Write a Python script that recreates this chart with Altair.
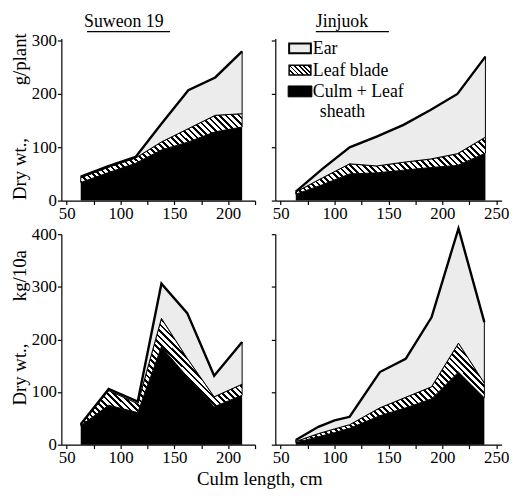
import math
import altair as alt
import pandas as pd

FONT = "Liberation Serif"

# ---- data ----------------------------------------------------------------
# Suweon 19, Dry wt. g/plant
s_top_cm = [63, 88, 114, 138, 163, 188, 213]
s_top_culm = [34, 52, 70, 95, 110, 129, 138]
s_top_leaf = [9, 10, 10, 15, 25, 31, 25]
s_top_ear = [2, 2, 2, 34, 72, 71, 117]

# Suweon 19, Dry wt. kg/10a
s_bot_cm = [63, 89, 116, 138, 162, 187, 213]
s_bot_culm = [36, 75, 61, 186, 129, 72, 94]
s_bot_leaf = [2, 28, 17, 54, 35, 19, 21]
s_bot_ear = [1, 3, 4, 66, 86, 40, 80]

# Jinjuok, Dry wt. g/plant
j_top_cm = [64, 89, 114, 139, 164, 189, 214, 240]
j_top_culm = [12, 30, 50, 52, 57, 62, 66, 89]
j_top_leaf = [4, 13, 19, 13, 15, 16, 22, 30]
j_top_ear = [1, 17, 31, 55, 70, 92, 112, 151]

# Jinjuok, Dry wt. kg/10a
j_bot_cm = [64, 85, 100, 114, 142, 166, 190, 215, 239]
j_bot_culm = [4, 15, 23, 31, 55, 70, 87, 138, 89]
j_bot_leaf = [2, 6, 7, 7, 15, 20, 23, 55, 28]
j_bot_ear = [3, 13, 16, 15, 68, 73, 132, 218, 116]

panel_titles = ["Suweon 19", "Jinjuok"]
y_title_top = ["g/plant", "Dry wt.,"]
y_title_bot = ["kg/10a", "Dry wt.,"]
x_title = "Culm length,  cm"
legend_labels = ["Ear", "Leaf blade", "Culm + Leaf", "sheath"]
top_yticks = [0, 100, 200, 300]
bot_yticks = [0, 100, 200, 300, 400]

# ---- styles ----------------------------------------------------------------
EAR_FILL = "#ececec"


def hatch(w, h, spacing=4.6, frac=0.42):
    r = h / w
    k = (1 + r) / (1 + r * r)
    n = max(3, round(w * (1 + r) / (math.sqrt(2) * spacing)))
    stops = []
    for i in range(n):
        a, b, c = i / n, (i + frac) / n, (i + 1) / n
        stops += [
            alt.GradientStop(color="black", offset=a),
            alt.GradientStop(color="black", offset=b),
            alt.GradientStop(color="white", offset=b),
            alt.GradientStop(color="white", offset=c),
        ]
    return alt.LinearGradient(gradient="linear", stops=stops,
                              x1=0, y1=1, x2=k, y2=1 - k * r)


def one_row(v):
    return alt.Chart(pd.DataFrame({"label": [v]}))


def text_at(s, x, y, size=19, angle=0, align="center", baseline="middle"):
    return one_row(s).mark_text(font=FONT, fontSize=size, color="black",
                                align=align, baseline=baseline,
                                angle=angle).encode(
        text="label:N", x=alt.value(x), y=alt.value(y))


def underline(x0, x1, y):
    return one_row("u").mark_rule(color="black", strokeWidth=1.3).encode(
        x=alt.value(x0), x2=alt.value(x1), y=alt.value(y))


def panel(cm, culm, leaf, ear, xmax, width, ymax, height, yticks, show_y,
          hatch_fill, extras=()):
    df = pd.DataFrame({"cm": cm, "culm": culm, "leaf": leaf, "ear": ear})
    base = alt.Chart(df).transform_calculate(
        c0="0",
        c1="datum.culm",
        c2="datum.culm + datum.leaf",
        c3="datum.culm + datum.leaf + datum.ear",
    )
    xticks = list(range(50, xmax + 1, 25))
    xenc = alt.X(
        "cm:Q",
        scale=alt.Scale(domain=[45, xmax], nice=False, zero=False),
        axis=alt.Axis(values=xticks, title=None,
                      labelExpr="datum.value % 50 == 0 ? datum.label : ''"),
    )
    if show_y:
        yax = alt.Axis(values=yticks, title=None)
    else:
        yax = alt.Axis(values=yticks, title=None, labels=False)
    ysc = alt.Scale(domain=[0, ymax], nice=False)

    def Y(f):
        return alt.Y(f"{f}:Q", scale=ysc, axis=yax)

    culm_l = base.mark_area(color="black").encode(
        x=xenc, y=Y("c1"), y2=alt.Y2("c0"))
    leaf_l = base.mark_area(fill=hatch_fill, stroke="black", strokeWidth=1).encode(
        x=xenc, y=Y("c2"), y2=alt.Y2("c1"))
    ear_l = base.mark_area(fill=EAR_FILL, stroke="black", strokeWidth=1).encode(
        x=xenc, y=Y("c3"), y2=alt.Y2("c2"))
    top_l = base.mark_line(color="black", strokeWidth=2.4).encode(
        x=xenc, y=Y("c3"))
    return alt.layer(culm_l, leaf_l, ear_l, top_l, *extras).properties(
        width=width, height=height)


# legend (inside the Jinjuok g/plant panel)
legend_layers = [
    one_row("Ear").mark_rect(fill=EAR_FILL, stroke="black", strokeWidth=2).encode(
        x=alt.value(14), x2=alt.value(36), y=alt.value(5), y2=alt.value(15)),
    one_row("Leaf blade").mark_rect(fill=hatch(22, 10, spacing=3.2), stroke="black",
                                    strokeWidth=1.5).encode(
        x=alt.value(14), x2=alt.value(36), y=alt.value(27), y2=alt.value(37)),
    one_row("Culm").mark_rect(fill="black", stroke="black").encode(
        x=alt.value(13), x2=alt.value(37), y=alt.value(48), y2=alt.value(59)),
]
legend_pos = [(38, 11), (38, 33), (38, 54), (45, 74)]
for lbl, (lx, ly) in zip(legend_labels, legend_pos):
    legend_layers.append(text_at(lbl, lx, ly, size=18, align="left"))

TOP_H, TOP_MAX = 164, 304
BOT_H, BOT_MAX = 213, 400
LEFT_W, LEFT_MAX = 196, 225
RIGHT_W, RIGHT_MAX = 229, 255

tl = panel(s_top_cm, s_top_culm, s_top_leaf, s_top_ear, LEFT_MAX, LEFT_W,
           TOP_MAX, TOP_H, top_yticks, True, hatch(163, 70),
           extras=[text_at(panel_titles[0], 23, -26, size=18, align="left",
                           baseline="top"),
                   underline(26, 110, -7),
                   text_at(y_title_top[0], -42, 21, angle=270),
                   text_at(y_title_top[1], -42, 132, angle=270)])
tr = panel(j_top_cm, j_top_culm, j_top_leaf, j_top_ear, RIGHT_MAX, RIGHT_W,
           TOP_MAX, TOP_H, top_yticks, False, hatch(194, 58),
           extras=[text_at(panel_titles[1], 41, -26, size=18, align="left",
                           baseline="top"),
                   underline(41, 115, -7)] + legend_layers)
bl = panel(s_bot_cm, s_bot_culm, s_bot_leaf, s_bot_ear, LEFT_MAX, LEFT_W,
           BOT_MAX, BOT_H, bot_yticks, True, hatch(163, 109),
           extras=[text_at(y_title_bot[0], -42, 42, angle=270),
                   text_at(y_title_bot[1], -42, 142, angle=270)])
br = panel(j_bot_cm, j_bot_culm, j_bot_leaf, j_bot_ear, RIGHT_MAX, RIGHT_W,
           BOT_MAX, BOT_H, bot_yticks, False, hatch(192, 101))

chart = alt.vconcat(
    alt.hconcat(tl, tr, spacing=14.5),
    alt.hconcat(bl, br, spacing=14.5),
    spacing=2,
).properties(
    title=alt.TitleParams(x_title, orient="bottom", anchor="middle", offset=5,
                          fontSize=19),
    padding={"left": 3, "top": 2, "right": 0, "bottom": 0},
).configure_view(strokeWidth=0).configure_axis(
    domainColor="black", tickColor="black", labelColor="black",
    titleColor="black", labelFont=FONT, titleFont=FONT, labelFontSize=17,
    titleFontSize=19, titleFontWeight="normal", tickSize=4, labelPadding=1,
    domainWidth=1.2, tickWidth=1.2, grid=False, labelFlush=False,
).configure_title(font=FONT, fontWeight="normal", color="black")

chart.save("out.html", embed_options={"renderer": "svg", "actions": False})
